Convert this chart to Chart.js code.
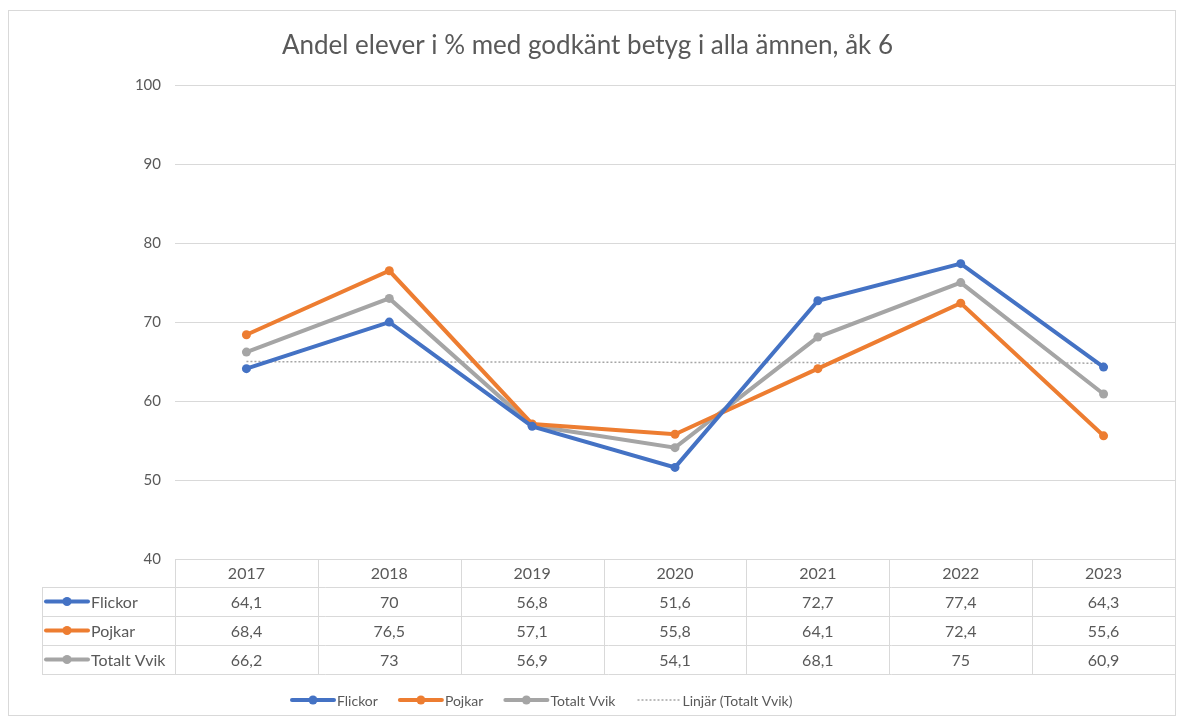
<!DOCTYPE html>
<html>
<head>
<meta charset="utf-8">
<script src="https://cdn.jsdelivr.net/npm/chart.js@4/dist/chart.umd.min.js"></script>
<style>
  html, body { margin: 0; padding: 0; background: #fff; }
  #wrap { width: 1184px; height: 724px; }
</style>
</head>
<body>
<div id="wrap"><canvas id="chart" width="1184" height="724"></canvas></div>
<script>
const years = ["2017", "2018", "2019", "2020", "2021", "2022", "2023"];
const flickor = [64.1, 70, 56.8, 51.6, 72.7, 77.4, 64.3];
const pojkar = [68.4, 76.5, 57.1, 55.8, 64.1, 72.4, 55.6];
const totaltVvik = [66.2, 73, 56.9, 54.1, 68.1, 75, 60.9];
// trendline endpoints, the line spans the gap
const linjar = [65.0, null, null, null, null, null, 64.8];
const yTicks = [40, 50, 60, 70, 80, 90, 100];

const textColor = "#595959";
const gridColor = "#d9d9d9";
const fontFamily = "Lato, 'Open Sans', sans-serif";

const series = [
    { label: "Flickor", data: flickor, color: "#4472C4" },
    { label: "Pojkar", data: pojkar, color: "#ED7D31" },
    { label: "Totalt Vvik", data: totaltVvik, color: "#A5A5A5" }
];

const fmt = v => String(v).replace(".", ",");

const framePlugin = {
    id: "frame",
    beforeDraw(chart) {
        const ctx = chart.ctx;
        ctx.save();
        ctx.fillStyle = "#fff";
        ctx.fillRect(0, 0, chart.width, chart.height);
        ctx.strokeStyle = gridColor;
        ctx.lineWidth = 1;
        ctx.strokeRect(8.5, 10.5, 1167, 705);
        ctx.restore();
    }
};

function drawSample(ctx, x0, x1, y, color, dotted) {
    ctx.save();
    ctx.strokeStyle = color;
    if (dotted) {
        ctx.lineWidth = 1.5;
        ctx.setLineDash([2, 2]);
    } else {
        ctx.lineWidth = 4;
        ctx.lineCap = "round";
    }
    ctx.beginPath();
    ctx.moveTo(x0, y);
    ctx.lineTo(x1, y);
    ctx.stroke();
    if (!dotted) {
        ctx.fillStyle = color;
        ctx.beginPath();
        ctx.arc((x0 + x1) / 2, y, 4.5, 0, Math.PI * 2);
        ctx.fill();
    }
    ctx.restore();
}

const tablePlugin = {
    id: "dataTable",
    afterDraw(chart) {
        const { ctx, chartArea } = chart;
        const x = chart.scales.x;
        const top = chartArea.bottom;
        const left = 42;
        const rowH = [28, 29, 29, 29];
        const rowTop = [top];
        rowH.forEach((h, i) => rowTop.push(rowTop[i] + h));
        const bottom = rowTop[rowTop.length - 1];

        const bounds = [chartArea.left];
        for (let i = 0; i < years.length - 1; i++) {
            bounds.push((x.getPixelForValue(i) + x.getPixelForValue(i + 1)) / 2);
        }
        bounds.push(chartArea.right);

        ctx.save();
        ctx.strokeStyle = gridColor;
        ctx.lineWidth = 1;
        ctx.beginPath();
        // horizontal lines
        ctx.moveTo(chartArea.left, Math.round(top) + 0.5);
        ctx.lineTo(chartArea.right, Math.round(top) + 0.5);
        for (let r = 1; r < rowTop.length; r++) {
            const yy = Math.round(rowTop[r]) + 0.5;
            ctx.moveTo(left, yy);
            ctx.lineTo(chartArea.right, yy);
        }
        // vertical lines
        bounds.forEach(bx => {
            const xx = Math.round(bx) + 0.5;
            ctx.moveTo(xx, top);
            ctx.lineTo(xx, bottom);
        });
        ctx.moveTo(left + 0.5, rowTop[1]);
        ctx.lineTo(left + 0.5, bottom);
        ctx.stroke();

        ctx.fillStyle = textColor;
        ctx.font = "16px " + fontFamily;
        ctx.textAlign = "center";
        ctx.textBaseline = "middle";
        years.forEach((yr, i) => {
            ctx.fillText(yr, x.getPixelForValue(i), rowTop[0] + rowH[0] / 2 + 1);
        });
        series.forEach((s, r) => {
            const cy = rowTop[r + 1] + rowH[r + 1] / 2 + 1;
            s.data.forEach((v, i) => {
                ctx.fillText(fmt(v), x.getPixelForValue(i), cy);
            });
        });
        ctx.textAlign = "left";
        series.forEach((s, r) => {
            const cy = rowTop[r + 1] + rowH[r + 1] / 2;
            drawSample(ctx, 46, 88, cy, s.color, false);
            ctx.fillStyle = textColor;
            ctx.fillText(s.label, 91, cy + 1);
        });
        ctx.restore();
    }
};

const legendPlugin = {
    id: "customLegend",
    afterDraw(chart) {
        const ctx = chart.ctx;
        const items = series.map(s => ({ label: s.label, color: s.color, dotted: false }));
        items.push({ label: "Linjär (Totalt Vvik)", color: "#A5A5A5", dotted: true });
        ctx.save();
        ctx.font = "14px " + fontFamily;
        ctx.textBaseline = "middle";
        ctx.textAlign = "left";
        const y = 700;
        let cx = 292;
        items.forEach(it => {
            drawSample(ctx, cx, cx + 42, y, it.color, it.dotted);
            ctx.fillStyle = textColor;
            ctx.fillText(it.label, cx + 45, y + 1);
            cx += 45 + ctx.measureText(it.label).width + 22;
        });
        ctx.restore();
    }
};

const datasets = series.map(s => ({
    label: s.label,
    data: s.data,
    borderColor: s.color,
    backgroundColor: s.color,
    borderWidth: 4,
    pointRadius: 4.5,
    pointHoverRadius: 4.5,
    pointBorderWidth: 0,
    tension: 0,
    fill: false
}));
datasets.push({
    label: "Linjär (Totalt Vvik)",
    data: linjar,
    borderColor: "#A5A5A5",
    borderWidth: 1.5,
    borderDash: [2, 2],
    pointRadius: 0,
    spanGaps: true,
    fill: false,
    order: 10
});

new Chart(document.getElementById("chart").getContext("2d"), {
    type: "line",
    data: { labels: years, datasets: datasets },
    options: {
        responsive: false,
        animation: false,
        devicePixelRatio: 1,
        layout: { padding: { top: 18, right: 9, bottom: 165, left: 0 } },
        scales: {
            x: {
                display: false,
                offset: true
            },
            y: {
                min: 40,
                max: 100,
                afterBuildTicks: scale => { scale.ticks = yTicks.map(v => ({ value: v })); },
                afterFit: scale => { scale.width = 175; },
                border: { display: false },
                grid: { color: gridColor, drawTicks: false },
                ticks: {
                    color: textColor,
                    padding: 14,
                    font: { family: fontFamily, size: 15 }
                }
            }
        },
        plugins: {
            legend: { display: false },
            tooltip: { enabled: false },
            title: {
                display: true,
                text: "Andel elever i % med godkänt betyg i alla ämnen, åk 6",
                color: textColor,
                font: { family: fontFamily, size: 26, weight: "normal" },
                padding: { top: 12, bottom: 24 }
            }
        }
    },
    plugins: [framePlugin, tablePlugin, legendPlugin]
});
</script>
</body>
</html>
